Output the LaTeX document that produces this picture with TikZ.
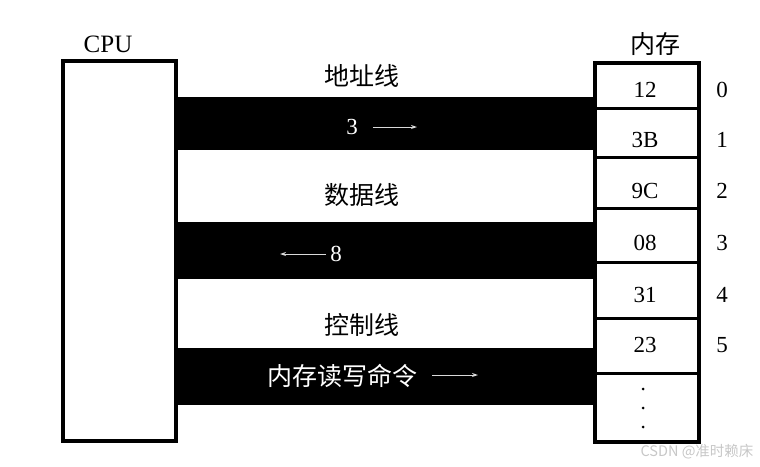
\documentclass[tikz,border=0pt]{standalone}
\usepackage{fontspec}
\setmainfont{Liberation Serif}
\newfontfamily\cjk{Noto Sans CJK SC}
\usetikzlibrary{arrows.meta}
\begin{document}
\begin{tikzpicture}[x=1pt,y=-1pt,
  band/.style={fill=black},
  boxline/.style={line width=4pt},
  divline/.style={line width=3pt},
  num/.style={inner sep=0pt,anchor=base,font=\fontsize{23}{23}\selectfont},
  cjklabel/.style={inner sep=0pt,font=\cjk\fontsize{25}{25}\selectfont},
  inlabel/.style={inner sep=0pt,text=white},
  busarrow/.style={draw=white!85!black,line width=1pt,-{Stealth[length=6pt,width=4pt]}},
  dotnode/.style={circle,fill=black,inner sep=0pt,minimum size=3pt}
]
\useasboundingbox (0,0) rectangle (760,466);
% buses
\fill[band] (174,97) rectangle (597,150);
\fill[band] (174,222) rectangle (597,279);
\fill[band] (174,348) rectangle (597,405);
% CPU
\draw[boxline,fill=white] (62.5,60.5) rectangle (175.5,441);
\node[inner sep=0pt,anchor=base,font=\fontsize{25}{25}\selectfont] (cpu) at (108,52) {CPU};
% memory
\draw[boxline,fill=white] (595,62.5) rectangle (699,442);
\foreach \yy in {108,157,208,262,318,373}{\draw[divline] (595,\yy) -- (699,\yy);}
\node[cjklabel] (mem) at (655,44) {内存};
\node[num] (c0) at (645,97) {12};
\node[num] (c1) at (645,147) {3B};
\node[num] (c2) at (645,198) {9C};
\node[num] (c3) at (645,250) {08};
\node[num] (c4) at (645,302) {31};
\node[num] (c5) at (645,352) {23};
\node[dotnode] (d1) at (643,389) {};
\node[dotnode] (d2) at (643,408) {};
\node[dotnode] (d3) at (643,427) {};
\node[num] (a0) at (722,97) {0};
\node[num] (a1) at (722,147) {1};
\node[num] (a2) at (722,198) {2};
\node[num] (a3) at (722,250) {3};
\node[num] (a4) at (722,302) {4};
\node[num] (a5) at (722,352) {5};
% bus labels
\node[cjklabel] (addr) at (362,76) {地址线};
\node[cjklabel] (data) at (362,195) {数据线};
\node[cjklabel] (ctrl) at (362,325) {控制线};
% in-band texts and arrows
\node[inlabel,font=\fontsize{23}{23}\selectfont] (t3) at (352,127) {3};
\coordinate (t3e) at (417,127);
\draw[busarrow] ([xshift=15pt]t3.east) -- (t3e);
\node[inlabel,font=\fontsize{23}{23}\selectfont] (t8) at (336,254) {8};
\coordinate (t8e) at (280,254);
\draw[busarrow] ([xshift=-4pt]t8.west) -- (t8e);
\node[inlabel,font=\cjk\fontsize{25}{25}\selectfont] (tc) at (342,376) {内存读写命令};
\coordinate (tce) at (478,375);
\draw[busarrow] ([xshift=15pt]tc.east |- tce) -- (tce);
% watermark
\node[inner sep=0pt,text=black!22,font=\cjk\fontsize{14.5}{14.5}\selectfont] (wm) at (697,452) {CSDN @准时赖床};
\end{tikzpicture}
\end{document}
